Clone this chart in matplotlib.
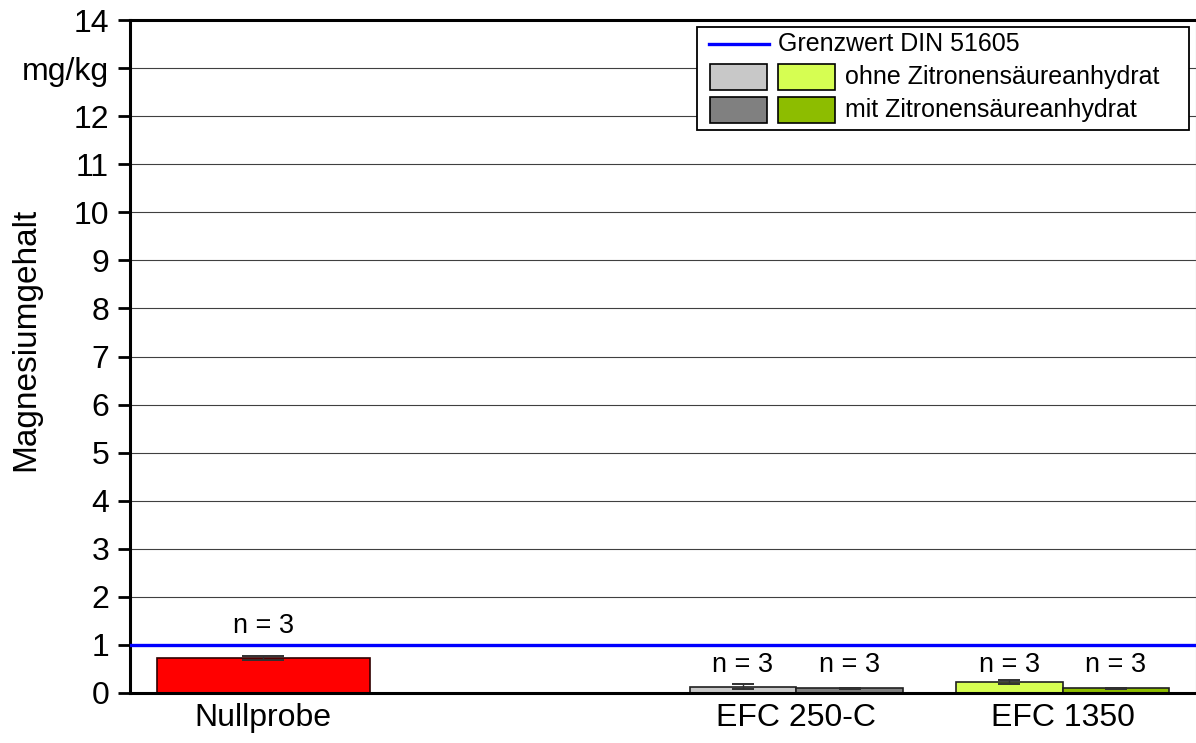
import matplotlib
matplotlib.use("Agg")
import matplotlib.pyplot as plt
from matplotlib.patches import Rectangle
from matplotlib.lines import Line2D

plt.rcParams['font.family'] = ['Liberation Sans', 'DejaVu Sans']

# Data
categories = ["Nullprobe", "EFC 250-C", "EFC 1350"]
cat_pos = [0, 2, 3]
null_value = 0.73
null_err = 0.05
ohne_values = [0.13, 0.23]   # EFC 250-C, EFC 1350 without citric acid anhydride
ohne_err = [0.05, 0.05]
mit_values = [0.10, 0.10]    # with citric acid anhydride
mit_err = [0.01, 0.01]
limit_value = 1.0
n_labels = ["n = 3", "n = 3", "n = 3", "n = 3", "n = 3"]
y_ticks = list(range(0, 15))
y_ticklabels = [str(v) for v in y_ticks]
y_ticklabels[13] = "mg/kg"

col_null = "#ff0000"
col_ohne = ["#c8c8c8", "#d6fe52"]
col_mit = ["#808080", "#8dbd00"]

W, H = 1196, 743
fig = plt.figure(figsize=(W / 100, H / 100), dpi=100)
ax = fig.add_axes([130 / W, 1 - 693 / H, 1066 / W, 673 / H])

ax.set_xlim(-0.5, 3.5)
ax.set_ylim(0, 14)

# grid
for v in y_ticks[1:-1]:
    ax.axhline(v, color="#404040", lw=0.8, zorder=0)

# Nullprobe bar
ax.bar(cat_pos[0], null_value, width=0.8, color=col_null, edgecolor="#300000", lw=1.2, zorder=2)
ax.errorbar(cat_pos[0], null_value, yerr=null_err, fmt="none", ecolor="#303030",
            elinewidth=1.0, capsize=15, capthick=1.4, zorder=3)

# grouped bars
bw = 0.4
for i, pos in enumerate(cat_pos[1:]):
    ax.bar(pos - bw / 2, ohne_values[i], width=bw, color=col_ohne[i], edgecolor="#202020", lw=1.2, zorder=2)
    ax.bar(pos + bw / 2, mit_values[i], width=bw, color=col_mit[i], edgecolor="#202020", lw=1.2, zorder=2)
    ax.errorbar(pos - bw / 2, ohne_values[i], yerr=ohne_err[i], fmt="none", ecolor="#303030",
                elinewidth=1.0, capsize=8, capthick=1.4, zorder=3)
    ax.errorbar(pos + bw / 2, mit_values[i], yerr=mit_err[i], fmt="none", ecolor="#303030",
                elinewidth=1.0, capsize=8, capthick=1.4, zorder=3)

# limit line
ax.axhline(limit_value, color="#0000ff", lw=2.4, zorder=4)

# sample count labels
label_x = [cat_pos[0], cat_pos[1] - bw / 2, cat_pos[1] + bw / 2, cat_pos[2] - bw / 2, cat_pos[2] + bw / 2]
label_y = [1.40, 0.58, 0.58, 0.58, 0.58]
for x, y, t in zip(label_x, label_y, n_labels):
    ax.text(x, y, t, ha="center", va="center", fontsize=19.5, zorder=5)

# axes styling
ax.set_yticks(y_ticks)
ax.set_yticklabels(y_ticklabels, fontsize=23)
ax.set_xticks(cat_pos)
ax.set_xticklabels(categories, fontsize=23)
ax.tick_params(axis="y", direction="out", length=9, width=2, pad=6)
ax.tick_params(axis="x", length=0, pad=7)
for s in ["left", "bottom", "top"]:
    ax.spines[s].set_linewidth(2.2)
    ax.spines[s].set_color("black")
ax.spines["right"].set_linewidth(0.8)
ax.spines["right"].set_color("#a0a0a0")


# layout helpers in pixel units
def fx(px):
    return px / W


def fy(py):
    return 1 - py / H


fig.text(fx(26), fy(339), "Magnesiumgehalt", rotation=90, ha="center", va="center", fontsize=24)

# legend
fig.patches.append(Rectangle((fx(697), fy(130)), fx(1189) - fx(697), fy(27) - fy(130),
                             transform=fig.transFigure, facecolor="white", edgecolor="black",
                             lw=1.3, zorder=10))
fig.lines.append(Line2D([fx(709), fx(769)], [fy(44), fy(44)], transform=fig.transFigure,
                        color="#0000ff", lw=2.4, zorder=11))
fig.text(fx(778), fy(44), "Grenzwert DIN 51605", ha="left", va="center", fontsize=18, zorder=11)
legend_rows = [("ohne Zitronensäureanhydrat", col_ohne, 77),
               ("mit Zitronensäureanhydrat", col_mit, 110)]
for text, cols, cy in legend_rows:
    for x0, c in zip([710, 778], cols):
        fig.patches.append(Rectangle((fx(x0), fy(cy + 13)), fx(57), 26 / H,
                                     transform=fig.transFigure, facecolor=c,
                                     edgecolor="black", lw=1.2, zorder=11))
    fig.text(fx(845), fy(cy), text, ha="left", va="center", fontsize=18, zorder=11)

fig.savefig("out.png", dpi=100)
